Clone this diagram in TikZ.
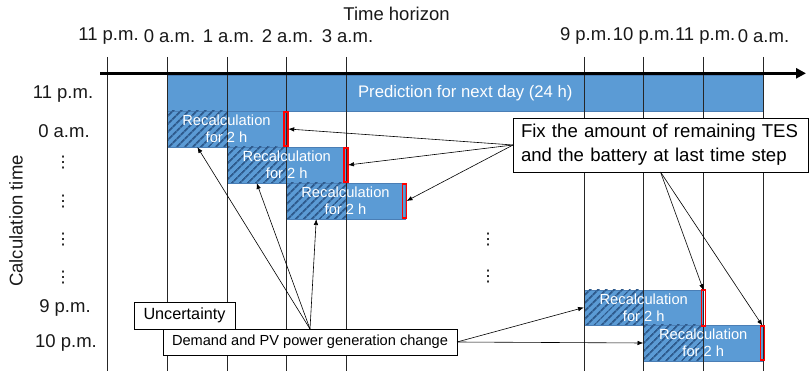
\documentclass[tikz,border=0pt]{standalone}
\usepackage{fontspec}
\setmainfont{Liberation Sans}
\newfontfamily\dejavu{DejaVu Sans}
\usetikzlibrary{arrows.meta,patterns.meta}
\definecolor{barblue}{HTML}{5B9BD5}
\definecolor{barline}{HTML}{4A7EB5}
\definecolor{hatchblue}{HTML}{2E5A8C}
\begin{document}
\begin{tikzpicture}[x=1pt,y=-1pt,
  lbl/.style={font=\fontsize{18.5}{22}\selectfont, inner sep=0pt, text=black!90},
  bar/.style={fill=barblue, draw=barline, line width=0.6pt, inner sep=0pt, outer sep=0pt, anchor=north west, minimum height=36pt},
  hatch/.style={pattern={Lines[angle=45,distance=5.4pt,line width=2pt]}, pattern color=hatchblue, inner sep=0pt, outer sep=0pt, anchor=north west, minimum height=36pt, minimum width=60pt},
  bartext/.style={text=white, align=center, font=\fontsize{14.7}{17}\selectfont, inner sep=0pt},
  redmark/.style={draw=red, line width=1.6pt, inner sep=0pt, outer sep=0pt, minimum width=4pt, minimum height=34.5pt},
  grid/.style={draw=black!85, line width=0.8pt},
  box/.style={draw=black, fill=white, line width=0.8pt, inner sep=0pt, outer sep=0pt, anchor=north west},
  arr/.style={draw=black, line width=0.6pt, -{Latex[length=6pt,width=4.5pt]}},
  dots/.style={font=\dejavu\fontsize{16}{18}\selectfont, inner sep=0pt}
]
\useasboundingbox (0,0) rectangle (809,371);

% bars
\node[bar, minimum width=596pt, minimum height=35.5pt] (pred) at (167.3,75.5) {};
\node[bar, minimum width=118.4pt] (r1) at (167.3,111) {};
\node[bar, minimum width=119pt] (r2) at (227.3,147) {};
\node[bar, minimum width=119pt] (r3) at (286,183) {};
\node[bar, minimum width=119.5pt, minimum height=35pt] (r4) at (584,290) {};
\node[bar, minimum width=119.5pt] (r5) at (643.5,325) {};

% hatched first hour
\node[hatch] (h1) at (167.3,111) {};
\node[hatch, minimum width=58.7pt] (h2) at (227.3,147) {};
\node[hatch, minimum width=60.5pt] (h3) at (286,183) {};
\node[hatch, minimum width=59.5pt, minimum height=35pt] (h4) at (584,290) {};
\node[hatch, minimum width=60pt] (h5) at (643.5,325) {};

% grid lines
\foreach \gx in {107.3,167.3,227.3,286,346.5,584,643.5,703.5,763}{
  \draw[grid] (\gx,57) -- (\gx,371);
}

% time axis
\coordinate (ax0) at (100,73.3);
\coordinate (ax1) at (806,73.3);
\draw[line width=3pt, -{Triangle[length=10pt,width=10pt]}] (ax0) -- (ax1);

% bar texts
\node[text=white, font=\fontsize{16.7}{20}\selectfont, inner sep=0pt] (predt) at (pred.center) {Prediction for next day (24 h)};
\node[bartext] (t1) at (r1.center) {Recalculation\\for 2 h};
\node[bartext] (t2) at (r2.center) {Recalculation\\for 2 h};
\node[bartext] (t3) at (r3.center) {Recalculation\\for 2 h};
\node[bartext] (t4) at (r4.center) {Recalculation\\for 2 h};
\node[bartext] (t5) at (r5.center) {Recalculation\\for 2 h};

% red marks
\node[redmark] (f1) at (286.2,129) {};
\node[redmark] (f2) at (346,165) {};
\node[redmark] (f3) at (404.5,201) {};
\node[redmark, minimum height=35.5pt] (f4) at (703.5,308) {};
\node[redmark] (f5) at (762.5,343) {};

% axis labels
\node[lbl] (ht) at (396.5,14) {Time horizon};
\node[lbl] (c0) at (108.5,36) {11 p.m.};
\node[lbl] (c1) at (169.5,36) {0 a.m.};
\node[lbl] (c2) at (228.5,36) {1 a.m.};
\node[lbl] (c3) at (287.5,36) {2 a.m.};
\node[lbl] (c4) at (347.5,36) {3 a.m.};
\node[lbl] (c5) at (585.7,36) {9 p.m.};
\node[lbl] (c6) at (643.8,36) {10 p.m.};
\node[lbl] (c7) at (705.2,36) {11 p.m.};
\node[lbl] (c8) at (763.5,36) {0 a.m.};

\node[lbl, rotate=90] (calc) at (16,221) {Calculation time};
\node[lbl] (l0) at (63,94) {11 p.m.};
\node[lbl] (l1) at (64,131) {0 a.m.};
\node[dots] (d1) at (63,163) {⋮};
\node[dots] (d2) at (63,202) {⋮};
\node[dots] (d3) at (63,240) {⋮};
\node[dots] (d4) at (63,278) {⋮};
\node[lbl] (l2) at (65,308) {9 p.m.};
\node[lbl] (l3) at (66,343) {10 p.m.};
\node[dots] (d5) at (488,240) {⋮};
\node[dots] (d6) at (488,277) {⋮};

% annotation boxes
\node[box, minimum width=295pt, minimum height=54pt, text width=279pt, inner xsep=8pt, align=left,
      font=\fontsize{18.6}{24}\selectfont] (fix) at (513,118)
      {Fix the amount of remaining TES\\and the battery at last time step};
\node[box, minimum width=101pt, minimum height=27pt, font=\fontsize{16.2}{19}\selectfont] (unc) at (134,302) {Uncertainty};
\node[box, minimum width=294pt, minimum height=26pt, font=\fontsize{14.6}{17}\selectfont] (dem) at (163,329) {Demand and PV power generation change};

% connectors
\draw[arr] (fix.west) -- (f1.east);
\draw[arr] (fix.west) -- (f2.east);
\draw[arr] (fix.west) -- (f3.east);
\draw[arr] (fix.south) -- (f4.north);
\draw[arr] (fix.south) -- (f5.north);
\draw[arr] (dem.north) -- (h1.south);
\draw[arr] (dem.north) -- (h2.south);
\draw[arr] (dem.north) -- (h3.south);
\draw[arr] (dem.east) -- (r4.west);
\draw[arr] (dem.east) -- (r5.west);
\end{tikzpicture}
\end{document}
